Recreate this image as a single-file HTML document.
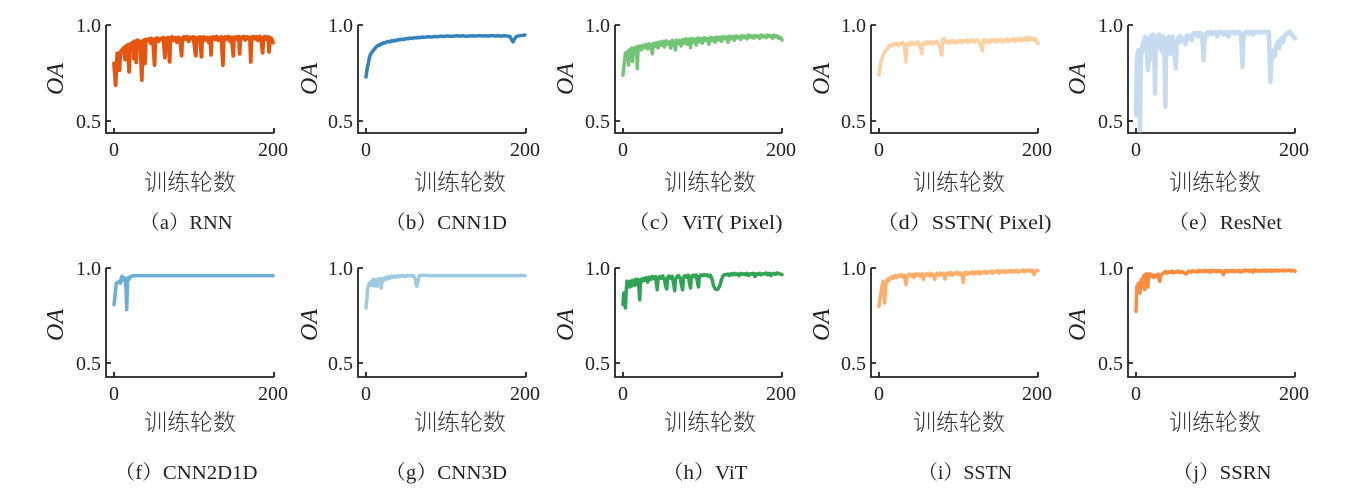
<!DOCTYPE html>
<html><head><meta charset="utf-8"><style>
html,body{margin:0;padding:0;background:#fff;}
svg{display:block;}
.tk{font-family:"Liberation Serif",serif;font-size:20px;fill:#222;}
.oa{font-family:"Liberation Serif",serif;font-size:24px;font-style:italic;fill:#222;}
.xl{font-family:"Liberation Sans","Noto Sans CJK SC",sans-serif;font-size:23px;font-weight:300;fill:#333;}
.cap{font-family:"Liberation Serif","Noto Serif CJK SC",serif;font-size:20px;fill:#222;}
.ax{stroke:#222;stroke-width:1.8;fill:none;}
.ln{fill:none;stroke-linejoin:round;stroke-linecap:round;}
</style></head><body>
<svg width="1368" height="499" viewBox="0 0 1368 499" xmlns="http://www.w3.org/2000/svg">
<rect width="1368" height="499" fill="#fff"/>

<!-- ===== Row 1 axes ===== -->
<g class="ax">
<path d="M106,25V133H274M106,25h5M106,121h5M114,133v-5M274,133v-5"/>
<path d="M358,25V133H526M358,25h5M358,121h5M366,133v-5M526,133v-5"/>
<path d="M615,25V133H782M615,25h5M615,121h5M623,133v-5M782,133v-5"/>
<path d="M871,25V133H1038M871,25h5M871,121h5M879,133v-5M1038,133v-5"/>
<path d="M1128,25V133H1295M1128,25h5M1128,121h5M1136,133v-5M1295,133v-5"/>
</g>
<!-- ===== Row 2 axes ===== -->
<g class="ax">
<path d="M106,268V377H274M106,268h5M106,363h5M114,377v-5M274,377v-5"/>
<path d="M358,268V377H526M358,268h5M358,363h5M366,377v-5M526,377v-5"/>
<path d="M615,268V377H782M615,268h5M615,363h5M623,377v-5M782,377v-5"/>
<path d="M871,268V377H1038M871,268h5M871,363h5M879,377v-5M1038,377v-5"/>
<path d="M1128,268V377H1295M1128,268h5M1128,363h5M1136,377v-5M1295,377v-5"/>
</g>

<!-- tick labels -->
<g class="tk" text-anchor="end">
<text x="101" y="32">1.0</text><text x="101" y="128">0.5</text>
<text x="353" y="32">1.0</text><text x="353" y="128">0.5</text>
<text x="610" y="32">1.0</text><text x="610" y="128">0.5</text>
<text x="866" y="32">1.0</text><text x="866" y="128">0.5</text>
<text x="1123" y="32">1.0</text><text x="1123" y="128">0.5</text>
<text x="101" y="275">1.0</text><text x="101" y="370">0.5</text>
<text x="353" y="275">1.0</text><text x="353" y="370">0.5</text>
<text x="610" y="275">1.0</text><text x="610" y="370">0.5</text>
<text x="866" y="275">1.0</text><text x="866" y="370">0.5</text>
<text x="1123" y="275">1.0</text><text x="1123" y="370">0.5</text>
</g>
<g class="tk" text-anchor="middle">
<text x="114" y="156">0</text><text x="273" y="156">200</text>
<text x="366" y="156">0</text><text x="525" y="156">200</text>
<text x="623" y="156">0</text><text x="781" y="156">200</text>
<text x="879" y="156">0</text><text x="1037" y="156">200</text>
<text x="1136" y="156">0</text><text x="1294" y="156">200</text>
<text x="114" y="400">0</text><text x="273" y="400">200</text>
<text x="366" y="400">0</text><text x="525" y="400">200</text>
<text x="623" y="400">0</text><text x="781" y="400">200</text>
<text x="879" y="400">0</text><text x="1037" y="400">200</text>
<text x="1136" y="400">0</text><text x="1294" y="400">200</text>
</g>

<!-- OA labels -->
<g class="oa" text-anchor="middle">
<text transform="translate(63,79) rotate(-90)">OA</text>
<text transform="translate(317,79) rotate(-90)">OA</text>
<text transform="translate(573,79) rotate(-90)">OA</text>
<text transform="translate(829,79) rotate(-90)">OA</text>
<text transform="translate(1085,79) rotate(-90)">OA</text>
<text transform="translate(63,325) rotate(-90)">OA</text>
<text transform="translate(317,325) rotate(-90)">OA</text>
<text transform="translate(573,325) rotate(-90)">OA</text>
<text transform="translate(829,325) rotate(-90)">OA</text>
<text transform="translate(1085,325) rotate(-90)">OA</text>
</g>

<!-- x labels -->
<g class="xl" text-anchor="middle">
<text x="190" y="190">训练轮数</text>
<text x="460" y="190">训练轮数</text>
<text x="710" y="190">训练轮数</text>
<text x="959" y="190">训练轮数</text>
<text x="1215" y="190">训练轮数</text>
<text x="190" y="430">训练轮数</text>
<text x="460" y="430">训练轮数</text>
<text x="710" y="430">训练轮数</text>
<text x="959" y="430">训练轮数</text>
<text x="1215" y="430">训练轮数</text>
</g>

<!-- captions -->
<g class="cap" text-anchor="middle">
<text x="186" y="229" textLength="93" lengthAdjust="spacingAndGlyphs">（a）RNN</text>
<text x="446" y="229" textLength="122" lengthAdjust="spacingAndGlyphs">（b）CNN1D</text>
<text x="705" y="229" textLength="155" lengthAdjust="spacingAndGlyphs">（c）ViT( Pixel)</text>
<text x="964" y="229" textLength="175" lengthAdjust="spacingAndGlyphs">（d）SSTN( Pixel)</text>
<text x="1225" y="229" textLength="114" lengthAdjust="spacingAndGlyphs">（e）ResNet</text>
<text x="186" y="479" textLength="143" lengthAdjust="spacingAndGlyphs">（f）CNN2D1D</text>
<text x="446" y="479" textLength="122" lengthAdjust="spacingAndGlyphs">（g）CNN3D</text>
<text x="705" y="479" textLength="85" lengthAdjust="spacingAndGlyphs">（h）ViT</text>
<text x="965" y="479" textLength="94" lengthAdjust="spacingAndGlyphs">（i）SSTN</text>
<text x="1222" y="479" textLength="99" lengthAdjust="spacingAndGlyphs">（j）SSRN</text>
</g>

<!-- ===== Series ===== -->
<!-- (a) RNN -->
<polyline class="ln" transform="translate(114,25) scale(0.795,0.192)" vector-effect="non-scaling-stroke" stroke="#e6550d" stroke-width="3.8"
points="0,200 2,313 4,148 6,150 7,235 8,140 10,130 12,120 14,180 15,110 17,105 19,244 20,100 22,95 24,90 25,175 26,85 28,195 29,80 31,82 33,90 35,287 36,85 38,78 39,200 40,75 42,80 44,72 46,95 47,70 49,78 51,209 52,72 54,68 56,85 58,70 60,75 62,66 64,170 65,70 67,80 68,65 70,192 71,70 73,62 75,80 77,66 79,90 81,64 83,72 85,160 86,68 88,62 90,75 92,60 94,85 96,64 98,70 100,62 102,140 103,160 104,66 106,75 108,62 110,165 111,70 113,62 115,78 117,66 119,90 121,64 122,155 123,68 125,62 127,75 129,60 131,80 133,66 135,62 137,209 138,70 140,62 142,75 144,60 146,85 148,64 150,160 151,66 153,62 155,75 157,60 158,150 159,64 161,70 163,60 165,78 167,62 169,70 171,64 172,192 173,66 175,60 177,72 179,62 181,80 183,60 185,70 187,145 188,64 190,60 192,75 194,62 195,140 196,66 198,70 200,92"/>

<!-- (b) CNN1D -->
<polyline class="ln" transform="translate(366,25) scale(0.795,0.192)" vector-effect="non-scaling-stroke" stroke="#3182bd" stroke-width="3.5"
points="0,270 1,240 2,215 3,200 4,175 5,160 6,150 7,146 8,138 9,134 10,128 11,124 12,118 13,114 14,110 15,108 16,104 17,106 18,100 19,98 20,99 22,92 24,94 26,88 28,86 30,88 32,82 34,84 36,80 38,82 40,76 42,78 45,74 48,76 50,70 53,72 55,68 58,70 60,66 63,68 65,65 68,66 70,63 74,64 78,61 82,63 86,60 90,61 94,58 98,60 102,57 106,59 110,58 114,56 118,58 122,56 126,59 130,57 134,56 138,58 142,55 146,57 150,56 154,58 158,55 162,57 166,56 170,58 174,56 178,57 181,60 183,75 185,88 187,72 189,60 192,57 195,55 198,54 200,52"/>

<!-- (c) ViT(Pixel) -->
<polyline class="ln" transform="translate(623,25) scale(0.795,0.192)" vector-effect="non-scaling-stroke" stroke="#74c476" stroke-width="3.5"
points="0,261 1,220 2,185 3,148 4,175 5,140 6,160 7,209 8,130 10,140 11,120 12,190 13,125 15,118 16,150 17,115 18,226 19,112 21,110 23,130 25,105 27,118 29,100 31,125 33,98 35,110 37,150 38,96 40,112 42,92 44,120 46,88 48,105 50,85 52,115 54,82 56,100 58,88 60,120 62,80 64,95 66,130 67,78 69,98 71,80 73,110 75,76 77,95 79,72 81,100 83,74 85,118 86,70 88,90 90,72 92,105 94,68 96,88 98,70 100,95 102,66 104,80 106,70 108,100 110,64 112,82 114,66 116,90 118,62 120,78 122,64 124,85 126,60 128,72 130,62 132,90 134,58 136,72 138,60 140,80 142,56 144,68 146,60 148,75 150,55 152,66 154,58 156,72 158,52 160,64 162,56 164,68 166,54 168,62 170,56 172,70 174,52 176,62 178,56 180,66 182,52 184,60 186,55 188,70 190,52 192,62 194,56 196,70 198,64 200,78"/>

<!-- (d) SSTN(Pixel) -->
<polyline class="ln" transform="translate(879,25) scale(0.795,0.192)" vector-effect="non-scaling-stroke" stroke="#fdd0a2" stroke-width="3.5"
points="0,261 1,230 2,200 3,183 4,170 6,150 8,135 10,128 12,115 14,105 16,110 18,98 20,104 22,94 24,108 26,96 28,100 30,92 32,110 33,150 34,192 35,100 37,95 39,105 41,90 43,102 45,92 47,98 49,88 51,110 53,130 54,150 55,96 57,90 59,100 61,88 63,96 65,86 67,100 69,90 71,95 73,85 75,98 77,120 78,150 79,157 80,75 82,70 84,92 86,84 88,96 90,82 92,90 94,80 96,95 98,84 100,88 102,80 104,92 106,82 108,86 110,78 112,92 114,80 116,86 118,76 120,90 122,82 124,78 126,88 128,110 130,134 131,80 133,76 135,88 137,80 139,92 141,78 143,84 145,76 147,90 149,78 151,82 153,74 155,88 157,78 159,84 161,72 163,86 165,76 167,82 169,70 171,86 173,74 175,80 177,68 179,84 181,72 183,78 185,66 187,82 189,64 191,76 193,70 195,80 197,72 199,92 200,96"/>

<!-- (e) ResNet -->
<polyline class="ln" transform="translate(1136,25) scale(0.795,0.192)" vector-effect="non-scaling-stroke" stroke="#c6dbef" stroke-width="4.5"
points="0,470 1,183 2,150 3,131 4,300 5,549 6,200 7,120 8,140 9,90 10,110 11,61 12,100 13,70 14,150 15,235 16,80 17,185 18,60 19,100 20,55 21,90 22,50 23,150 24,357 25,70 26,110 27,60 28,90 29,50 30,120 31,80 32,70 33,140 34,60 35,100 36,200 37,427 38,90 39,70 40,110 41,60 42,80 43,150 44,70 45,90 46,60 47,100 48,120 49,180 50,226 51,100 52,80 53,70 54,60 55,90 56,60 58,80 60,70 62,100 64,55 66,70 68,60 70,80 72,44 74,50 76,40 78,60 80,40 82,45 84,100 85,183 86,90 88,45 90,38 92,50 94,36 96,45 98,40 100,38 102,60 104,40 106,36 108,40 110,50 112,36 114,38 116,60 118,36 120,40 122,36 124,45 126,38 128,40 130,36 132,50 133,120 134,218 135,80 137,40 139,36 141,38 143,45 145,36 147,50 149,36 151,38 153,36 155,40 157,36 159,38 161,36 163,38 165,36 167,36 168,150 169,296 170,200 172,160 174,130 175,160 176,110 178,90 180,120 181,80 183,70 185,90 187,55 189,50 191,40 193,35 195,45 197,55 199,65 200,70"/>

<!-- (f) CNN2D1D -->
<polyline class="ln" transform="translate(114,268) scale(0.795,0.19)" vector-effect="non-scaling-stroke" stroke="#6baed6" stroke-width="3.5"
points="0,193 1,160 2,110 3,80 5,75 7,70 8,80 9,55 10,44 11,60 12,65 13,50 14,60 15,100 16,219 17,70 18,50 19,60 21,45 23,42 26,40 35,40 200,40"/>

<!-- (g) CNN3D -->
<polyline class="ln" transform="translate(366,268) scale(0.795,0.19)" vector-effect="non-scaling-stroke" stroke="#9ecae1" stroke-width="3.5"
points="0,210 1,170 2,114 3,95 4,79 6,90 7,70 8,85 9,60 10,95 11,70 12,60 13,75 14,95 15,60 16,85 17,55 18,70 19,105 20,80 21,55 22,65 24,50 26,60 28,45 30,55 32,42 34,50 36,42 38,48 40,40 42,46 44,40 46,44 48,40 50,45 52,38 54,40 56,42 58,40 60,42 62,60 63,85 64,96 65,80 66,60 67,40 70,38 80,40 200,40"/>

<!-- (h) ViT -->
<polyline class="ln" transform="translate(623,268) scale(0.795,0.19)" vector-effect="non-scaling-stroke" stroke="#31a354" stroke-width="3.5"
points="0,193 1,132 2,170 3,210 4,120 5,70 6,90 7,75 8,100 9,70 10,80 11,95 12,65 13,80 14,70 15,90 16,60 17,70 18,85 19,60 20,100 21,167 22,80 23,60 24,70 25,55 27,65 29,50 31,75 33,48 35,60 37,44 39,55 41,45 43,114 44,60 46,45 48,55 50,42 52,60 54,100 55,110 56,50 58,42 60,55 62,44 64,90 65,120 66,60 68,44 70,40 72,55 74,100 75,115 76,50 78,40 80,48 82,38 84,90 85,105 86,45 88,38 90,46 92,36 94,85 95,100 96,45 98,36 100,40 102,34 104,40 106,36 108,45 110,38 112,60 114,95 116,110 118,114 120,108 122,90 124,60 126,40 128,34 130,36 132,32 134,40 136,30 138,36 140,28 142,35 144,30 146,40 148,28 150,34 152,30 154,36 156,28 158,40 160,30 162,32 164,28 166,45 168,30 170,34 172,28 174,36 176,30 178,32 180,26 182,36 184,28 186,40 188,30 190,28 192,34 194,26 196,30 198,32 200,35"/>

<!-- (i) SSTN -->
<polyline class="ln" transform="translate(879,268) scale(0.795,0.19)" vector-effect="non-scaling-stroke" stroke="#fdae6b" stroke-width="3.5"
points="0,202 1,170 2,140 3,120 4,90 5,70 6,110 7,184 8,120 9,75 10,65 11,70 12,55 14,60 16,45 18,55 20,40 22,50 24,38 26,45 28,35 30,48 32,38 34,88 35,55 36,40 38,32 40,42 42,35 44,50 46,30 48,40 50,32 52,45 54,30 56,60 57,40 58,32 60,38 62,28 64,42 66,30 68,36 70,60 71,35 73,28 75,40 77,26 79,35 81,28 83,58 84,32 86,26 88,36 90,24 92,38 94,26 96,32 98,22 100,35 102,26 104,32 106,75 107,30 109,22 111,34 113,24 115,30 117,20 119,32 121,22 123,28 125,18 127,32 129,20 131,26 133,18 135,28 137,20 139,24 141,16 143,28 145,18 147,22 149,14 151,26 153,16 155,22 157,14 159,24 161,16 163,20 165,12 167,22 169,14 171,20 173,12 175,22 177,14 179,18 181,10 183,20 185,12 187,16 189,10 191,18 193,12 195,35 196,20 198,12 200,15"/>

<!-- (j) SSRN -->
<polyline class="ln" transform="translate(1136,268) scale(0.795,0.19)" vector-effect="non-scaling-stroke" stroke="#fd8d3c" stroke-width="3.5"
points="0,228 1,96 2,110 3,80 4,95 5,132 6,70 7,60 8,100 9,50 10,40 11,114 12,35 13,30 14,60 15,100 16,40 17,30 18,45 20,35 22,50 24,38 26,45 28,32 29,60 30,70 31,40 33,32 35,25 37,18 39,28 41,20 43,24 45,16 47,26 49,20 51,22 53,15 55,24 57,18 59,22 61,28 63,32 65,22 67,16 69,22 71,14 73,20 75,16 77,22 79,12 81,18 83,14 85,20 87,12 89,18 91,14 93,22 95,12 97,18 99,14 101,20 103,12 105,18 107,14 109,30 110,35 111,18 113,12 115,20 117,14 119,18 121,12 123,20 125,14 127,18 129,12 131,22 133,14 135,18 137,10 139,16 141,12 143,18 145,12 147,22 149,10 151,16 153,12 155,18 157,12 159,16 161,10 163,18 165,12 167,16 169,10 171,18 173,12 175,16 177,10 179,16 181,12 183,14 185,10 187,16 189,12 191,14 193,10 195,16 197,12 199,14 200,18"/>
</svg>
</body></html>
